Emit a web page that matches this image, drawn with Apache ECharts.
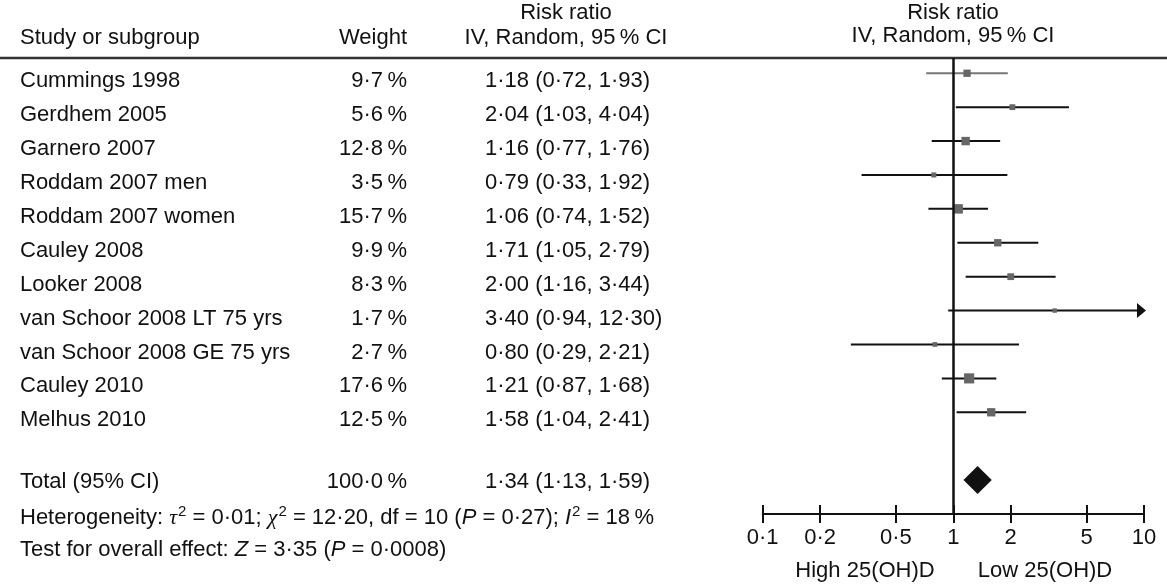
<!DOCTYPE html>
<html><head><meta charset="utf-8">
<script src="https://cdn.jsdelivr.net/npm/echarts@6/dist/echarts.min.js"></script>
<style>html,body{margin:0;padding:0;background:#fff}#c{width:1167px;height:588px}</style>
</head><body><div id="c"></div>
<script>
// ---- data ----
const studies = ['Cummings 1998','Gerdhem 2005','Garnero 2007','Roddam 2007 men','Roddam 2007 women','Cauley 2008','Looker 2008','van Schoor 2008 LT 75 yrs','van Schoor 2008 GE 75 yrs','Cauley 2010','Melhus 2010'];
const weights = [9.7,5.6,12.8,3.5,15.7,9.9,8.3,1.7,2.7,17.6,12.5];
const ratios  = [1.18,2.04,1.16,0.79,1.06,1.71,2.00,3.40,0.80,1.21,1.58];
const lower   = [0.72,1.03,0.77,0.33,0.74,1.05,1.16,0.94,0.29,0.87,1.04];
const upper   = [1.93,4.04,1.76,1.92,1.52,2.79,3.44,12.30,2.21,1.68,2.41];
const totalLabel = 'Total (95% CI)';
const totalWeight = 100.0;
const totalRatio = 1.34, totalLower = 1.13, totalUpper = 1.59;
const tickValues = [0.1,0.2,0.5,1,2,5,10];
const axisNames = ['High 25(OH)D','Low 25(OH)D'];

// ---- helpers ----
const FONT = 'Liberation Sans, Arial, Helvetica, sans-serif';
const INK = '#111';
const dot = s => String(s).replace('.', '\u00b7');
const fmtR = v => dot(v.toFixed(2));
const fmtW = w => dot(w.toFixed(1)) + '\u2009%';
const ciText = (r,l,u) => `${fmtR(r)} (${fmtR(l)}, ${fmtR(u)})`;
const TOTAL_ROW = studies.length + 1;
const XMIN = 0.1, XMAX = 10;

const chart = echarts.init(document.getElementById('c'), null, {renderer:'canvas'});

const textLabel = (pos, off) => ({show:true, position:pos, distance:0, formatter:p=>p.name,
  fontSize:22, fontFamily:FONT, color:INK, opacity:1, offset:[0,off]});

const nameData = studies.map((s,i)=>({value:[20,i], name:s}));
nameData.push({value:[20,TOTAL_ROW], name:totalLabel, label:{offset:[0,2]}});
const weightData = weights.map((w,i)=>({value:[407,i], name:fmtW(w)}));
weightData.push({value:[407,TOTAL_ROW], name:fmtW(totalWeight), label:{offset:[0,2]}});
const ciData = studies.map((s,i)=>({value:[485,i], name:ciText(ratios[i],lower[i],upper[i])}));
ciData.push({value:[485,TOTAL_ROW], name:ciText(totalRatio,totalLower,totalUpper), label:{offset:[0,2]}});

const logAxisBase = {
  type:'log', logBase:10, min:XMIN, max:XMAX, gridIndex:0, position:'bottom',
  splitLine:{show:false}
};
const textSeries = (data, pos) => ({type:'scatter', xAxisIndex:2, yAxisIndex:1, symbolSize:0, silent:true,
  itemStyle:{opacity:1}, data, label:textLabel(pos,8)});

const option = {
  animation:false,
  backgroundColor:'#fff',
  grid:[
    {left:762.7, width:381.3, top:58, height:456},
    {left:0, width:1167, top:58, height:456}
  ],
  xAxis:[
    Object.assign({}, logAxisBase, {
      axisLine:{show:true, onZero:false, lineStyle:{color:INK, width:2}},
      axisTick:{show:true, length:9, lineStyle:{color:INK, width:2}, customValues:tickValues},
      axisLabel:{show:true, customValues:tickValues, formatter:v=>dot(v), fontSize:22, fontFamily:FONT, color:INK, margin:13}
    }),
    Object.assign({}, logAxisBase, {
      axisLine:{show:false, onZero:false},
      axisTick:{show:true, inside:true, length:9, lineStyle:{color:INK, width:2}, customValues:tickValues},
      axisLabel:{show:false}
    }),
    {type:'value', gridIndex:1, min:0, max:1167, show:false}
  ],
  yAxis:[
    {type:'value', gridIndex:0, inverse:true, min:-0.45, max:13, show:false},
    {type:'value', gridIndex:1, inverse:true, min:-0.45, max:13, show:false}
  ],
  series:[
    {
      type:'custom', xAxisIndex:0, yAxisIndex:0, z:2,
      data: studies.map((s,i)=>[i, lower[i], upper[i]]),
      renderItem(params, api){
        const row = api.value(0), lo = api.value(1), hi = api.value(2);
        const p1 = api.coord([Math.max(lo,XMIN), row]);
        const p2 = api.coord([Math.min(hi,XMAX), row]);
        const children = [{type:'line', shape:{x1:p1[0],y1:p1[1],x2:p2[0],y2:p2[1]},
          style:{stroke: params.dataIndex===0 ? '#777' : INK, lineWidth:2}}];
        if (hi > XMAX) children.push({type:'polygon',
          shape:{points:[[p2[0]-7,p2[1]-7.5],[p2[0]+2,p2[1]],[p2[0]-7,p2[1]+7.5]]}, style:{fill:INK}});
        return {type:'group', children};
      },
      markLine:{silent:true, symbol:'none', label:{show:false}, animation:false,
        lineStyle:{color:'#111', width:2.5, type:'solid', opacity:1}, data:[{xAxis:1}]}
    },
    {
      type:'scatter', xAxisIndex:0, yAxisIndex:0, z:3, symbol:'rect',
      data: studies.map((s,i)=>[ratios[i], i, weights[i]]),
      symbolSize: d => 3.8 + 0.36*d[2],
      itemStyle:{color:'#666', opacity:1}
    },
    {
      type:'custom', xAxisIndex:0, yAxisIndex:0, z:3,
      data:[[TOTAL_ROW, totalLower, totalRatio, totalUpper]],
      renderItem(params, api){
        const row = api.value(0);
        const l = api.coord([api.value(1), row]);
        const m = api.coord([api.value(2), row]);
        const r = api.coord([api.value(3), row]);
        return {type:'polygon', shape:{points:[l,[m[0],m[1]-14],r,[m[0],m[1]+14]]}, style:{fill:INK}};
      }
    },
    textSeries(nameData,'right'),
    textSeries(weightData,'left'),
    textSeries(ciData,'right')
  ],
  graphic:[
    {type:'line', shape:{x1:0,y1:58,x2:1167,y2:58}, style:{stroke:'#333', lineWidth:2.5}, z:1},
    {type:'text', x:20, y:38, style:{text:'Study or subgroup', fontSize:22, fontFamily:FONT, fill:INK, textAlign:'left', textVerticalAlign:'middle'}},
    {type:'text', x:407, y:38, style:{text:'Weight', fontSize:22, fontFamily:FONT, fill:INK, textAlign:'right', textVerticalAlign:'middle'}},
    {type:'text', x:566, y:13, style:{text:'Risk ratio', fontSize:22, fontFamily:FONT, fill:INK, textAlign:'center', textVerticalAlign:'middle'}},
    {type:'text', x:566, y:38, style:{text:'IV, Random, 95\u2009% CI', fontSize:22, fontFamily:FONT, fill:INK, textAlign:'center', textVerticalAlign:'middle'}},
    {type:'text', x:953, y:13, style:{text:'Risk ratio', fontSize:22, fontFamily:FONT, fill:INK, textAlign:'center', textVerticalAlign:'middle'}},
    {type:'text', x:953, y:36, style:{text:'IV, Random, 95\u2009% CI', fontSize:22, fontFamily:FONT, fill:INK, textAlign:'center', textVerticalAlign:'middle'}},
    {type:'text', x:865, y:571, style:{text:axisNames[0], fontSize:22, fontFamily:FONT, fill:INK, textAlign:'center', textVerticalAlign:'middle'}},
    {type:'text', x:1045, y:571, style:{text:axisNames[1], fontSize:22, fontFamily:FONT, fill:INK, textAlign:'center', textVerticalAlign:'middle'}},
    {type:'text', x:20, y:518, style:{
      text:'Heterogeneity: {g|\u03c4}{s|2} = 0\u00b701; {g|\u03c7}{s|2} = 12\u00b720, df = 10 ({i|P} = 0\u00b727); {i|I}{s|2} = 18\u2009%',
      fontSize:22, fontFamily:FONT, fill:INK, textAlign:'left', textVerticalAlign:'middle',
      rich:{
        g:{fontSize:22, fontFamily:'Liberation Serif, serif', fontStyle:'italic', fill:INK},
        i:{fontSize:22, fontFamily:FONT, fontStyle:'italic', fill:INK},
        s:{fontSize:15, fontFamily:FONT, fill:INK, padding:[0,0,12,1]}
      }}},
    {type:'text', x:20, y:550, style:{
      text:'Test for overall effect: {i|Z} = 3\u00b735 ({i|P} = 0\u00b70008)',
      fontSize:22, fontFamily:FONT, fill:INK, textAlign:'left', textVerticalAlign:'middle',
      rich:{ i:{fontSize:22, fontFamily:FONT, fontStyle:'italic', fill:INK} }}}
  ]
};
chart.setOption(option);
</script>
</body></html>
